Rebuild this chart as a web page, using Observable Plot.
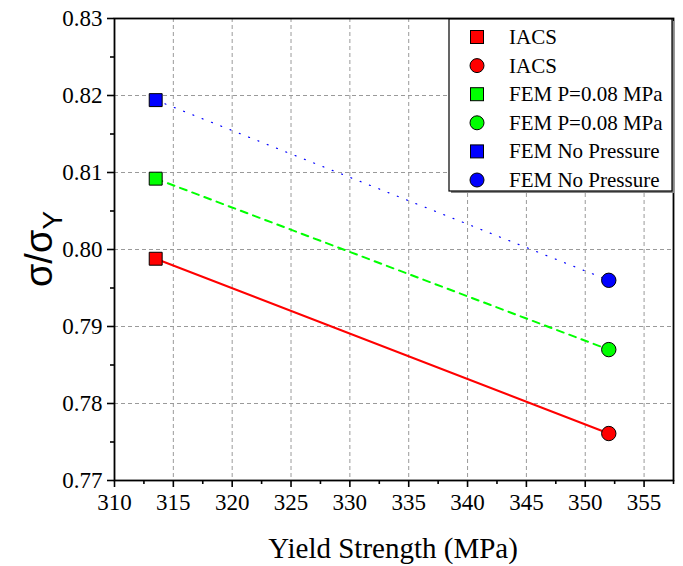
<!DOCTYPE html>
<html><head><meta charset="utf-8">
<script src="https://cdn.jsdelivr.net/npm/d3@7"></script>
<script src="https://cdn.jsdelivr.net/npm/@observablehq/plot@0.6"></script>
<style>
body{margin:0;background:#fff}
#chart svg {background:#fff; color:#000;}
#chart svg text {font-family: "Liberation Serif", serif !important; font-size: 23px;}
#chart svg text.leg {font-size: 21px;}
#chart svg text.xt {font-size: 29px;}
#chart svg text.yt, #chart svg text.yt tspan {font-family: "Liberation Sans", sans-serif !important; font-size: 38px;}
#chart svg text.yt tspan.sub {font-size: 28px;}
</style>
</head><body><div id="chart"></div>
<script>
const seriesNames = ["IACS", "FEM P=0.08 MPa", "FEM No Pressure"];
const seriesColors = ["#ff0000", "#00ff00", "#0000ff"];
const yieldStrength = [313.5, 352];
const iacs = [0.7988, 0.7761];
const femP = [0.8092, 0.7870];
const femNoP = [0.8194, 0.7960];
const xTicks = [310, 315, 320, 325, 330, 335, 340, 345, 350, 355];
const xMinor = [312.5, 317.5, 322.5, 327.5, 332.5, 337.5, 342.5, 347.5, 352.5, 357.5];
const yTicks = [0.77, 0.78, 0.79, 0.80, 0.81, 0.82, 0.83];
const yMinor = [0.775, 0.785, 0.795, 0.805, 0.815, 0.825];
const xLabel = "Yield Strength (MPa)";

const seriesValues = [iacs, femP, femNoP];
const rows = [];
seriesNames.forEach((name, i) => {
  yieldStrength.forEach((x, j) => rows.push({series: name, x, y: seriesValues[i][j], symbol: j === 0 ? "square" : "circle", color: seriesColors[i]}));
});
const lineStyles = {"IACS": {dash: null, w: 2}, "FEM P=0.08 MPa": {dash: "7,6", w: 2}, "FEM No Pressure": {dash: "1,9", w: 1.2}};

const serif = "Liberation Serif, serif";
const gridStyle = {stroke: "#9a9a9a", strokeOpacity: 1, strokeDasharray: "4,3", strokeWidth: 1};
const chart = Plot.plot({
  width: 683, height: 566,
  marginLeft: 114, marginRight: 10, marginTop: 18, marginBottom: 86,
  x: {domain: [310, 357.5], label: null},
  y: {domain: [0.77, 0.83], label: null},
  marks: [
    Plot.gridX(xTicks, gridStyle),
    Plot.gridY(yTicks, gridStyle),
    ...seriesNames.map((name, i) => Plot.line(rows.filter(r => r.series === name), {
      x: "x", y: "y", stroke: seriesColors[i], strokeWidth: lineStyles[name].w,
      strokeDasharray: lineStyles[name].dash
    })),
    Plot.dot(rows.filter(r => r.symbol === "square"), {x: "x", y: "y", symbol: "square", r: 7.3, fill: "color", stroke: "#000", strokeWidth: 1}),
    Plot.dot(rows.filter(r => r.symbol === "circle"), {x: "x", y: "y", symbol: "circle", r: 7.2, fill: "color", stroke: "#000", strokeWidth: 1}),
    Plot.axisX(xTicks, {tickSize: 7, tickPadding: 6, strokeWidth: 1.6, label: null, fontFamily: serif, fontSize: 23, fontVariant: "normal"}),
    Plot.axisX(xMinor, {tickSize: 4, strokeWidth: 1.6, text: null, label: null}),
    Plot.axisY(yTicks, {tickSize: 7, tickPadding: 5, strokeWidth: 1.6, tickFormat: d3.format(".2f"), label: null, fontFamily: serif, fontSize: 23, fontVariant: "normal"}),
    Plot.axisY(yMinor, {tickSize: 4, strokeWidth: 1.6, text: null, label: null}),
    Plot.frame({stroke: "#000", strokeWidth: 1.8})
  ]
});
document.getElementById("chart").appendChild(chart);

const svg = d3.select(chart);
// x axis title
svg.append("text").attr("class", "xt").attr("x", 393).attr("y", 558).attr("text-anchor", "middle").attr("fill", "#000").text(xLabel);
// y axis title with subscript
const yl = svg.append("text").attr("class", "yt").attr("transform", "translate(52,249) rotate(-90)").attr("text-anchor", "middle").attr("fill", "#000");
yl.append("tspan").text("σ/σ");
yl.append("tspan").attr("class", "sub").attr("dy", 10).text("Y");

// legend
const lg = svg.append("g").attr("transform", "translate(449,19)");
lg.append("rect").attr("x", 2).attr("y", 2).attr("width", 223).attr("height", 172).attr("fill", "#888");
lg.append("rect").attr("width", 223).attr("height", 172).attr("fill", "#fff").attr("stroke", "#000").attr("stroke-width", 1.2);
const entries = [];
seriesNames.forEach((n, i) => { entries.push({n, c: seriesColors[i], s: "square"}); entries.push({n, c: seriesColors[i], s: "circle"}); });
entries.forEach((e, k) => {
  const cy = 18 + k * 28.6;
  if (e.s === "square") lg.append("rect").attr("x", 28 - 6.5).attr("y", cy - 6.5).attr("width", 13).attr("height", 13).attr("fill", e.c).attr("stroke", "#000");
  else lg.append("circle").attr("cx", 28).attr("cy", cy).attr("r", 7).attr("fill", e.c).attr("stroke", "#000");
  lg.append("text").attr("class", "leg").attr("x", 60).attr("y", cy + 7).attr("text-anchor", "start").attr("fill", "#000").text(e.n);
});
</script></body></html>
